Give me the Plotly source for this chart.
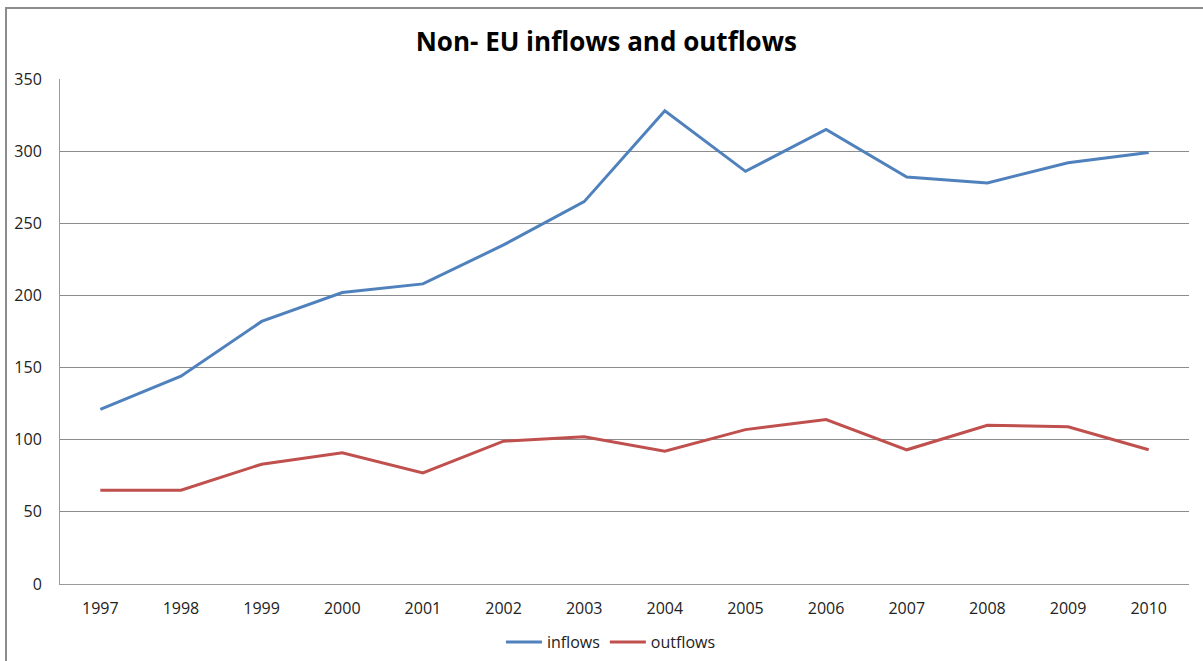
import plotly.graph_objects as go

years = ["1997", "1998", "1999", "2000", "2001", "2002", "2003", "2004",
         "2005", "2006", "2007", "2008", "2009", "2010"]
inflows = [121, 144, 182, 202, 208, 235, 265, 328, 286, 315, 282, 278, 292, 299]
outflows = [65, 65, 83, 91, 77, 99, 102, 92, 107, 114, 93, 110, 109, 93]
y_ticks = [0, 50, 100, 150, 200, 250, 300, 350]

W, H = 1203, 661
L, R, T, B = 60, 14, 79, 77
pw, ph = W - L - R, H - T - B

fig = go.Figure()
fig.add_trace(go.Scatter(x=years, y=inflows, mode="lines", name="inflows",
                         line=dict(color="#4F81BD", width=3)))
fig.add_trace(go.Scatter(x=years, y=outflows, mode="lines", name="outflows",
                         line=dict(color="#C0504D", width=3)))

font_fam = "Open Sans, Liberation Sans, sans-serif"
fig.update_layout(
    width=W, height=H,
    margin=dict(l=L, r=R, t=T, b=B, autoexpand=False),
    paper_bgcolor="white", plot_bgcolor="white",
    font=dict(family=font_fam, size=15, color="#222222"),
    title=dict(text="<b>Non- EU inflows and outflows</b>", x=0.504, xanchor="center",
               y=1 - 42 / H, yanchor="middle",
               font=dict(size=26, color="black", family=font_fam)),
    xaxis=dict(type="category", range=[-0.5, 13.5], showgrid=False,
               showline=True, linecolor="#9a9a9a", linewidth=1, mirror=False,
               ticks="", ticklabelstandoff=10, tickfont=dict(size=16)),
    yaxis=dict(range=[0, 350], tickvals=y_ticks, showgrid=True,
               gridcolor="#8c8c8c", gridwidth=1, zeroline=False,
               showline=True, linecolor="#9a9a9a", linewidth=1,
               ticks="", ticklabelstandoff=14, tickfont=dict(size=16)),
    legend=dict(orientation="h", x=0.488, xanchor="center",
                y=(584 - 642) / ph, yanchor="middle",
                font=dict(size=16), itemwidth=36, tracegroupgap=0),
    showlegend=True,
    shapes=[dict(type="rect", xref="paper", yref="paper",
                 x0=(6 - L) / pw, x1=1.2, y0=-0.5, y1=(H - B - 8) / ph,
                 line=dict(color="#8c8c8c", width=2), fillcolor="rgba(0,0,0,0)",
                 layer="below")],
)

fig.write_html("out.html")
